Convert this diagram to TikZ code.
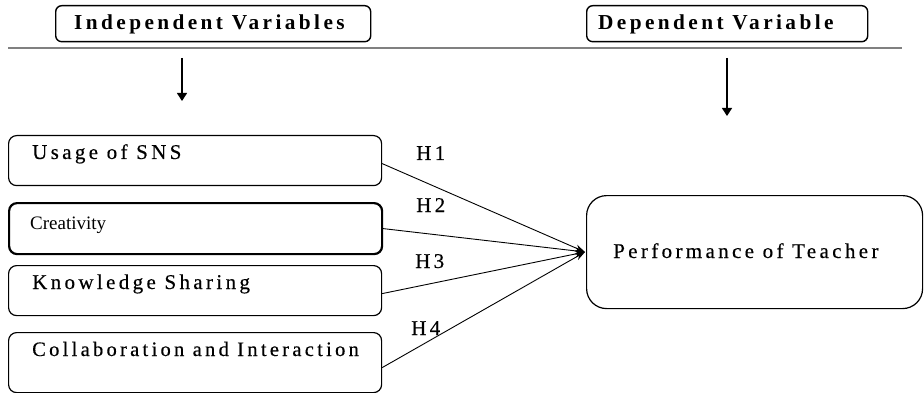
\documentclass[tikz,border=0pt]{standalone}
\usepackage{fontspec}
\setmainfont{Liberation Serif}
\newfontfamily\spaced[LetterSpace=16,FakeBold=0.4]{Liberation Serif}
\newfontfamily\spacedb[LetterSpace=16]{Liberation Serif}
\usetikzlibrary{arrows.meta}
\tikzset{
  box/.style={draw, line width=1.2pt, rounded corners=8pt, anchor=north west, inner sep=0pt},
  hbox/.style={draw, line width=1.4pt, rounded corners=6pt, anchor=north west, inner sep=0pt},
  lbl/.style={anchor=base west, inner sep=0pt, font=\spaced\fontsize{21}{23}\selectfont},
  hlbl/.style={anchor=base west, inner sep=0pt, font=\spacedb\bfseries\fontsize{21.3}{23}\selectfont},
  plain/.style={anchor=base west, inner sep=0pt, font=\fontsize{19}{21}\selectfont},
  link/.style={line width=0.9pt, -{Stealth[length=10pt,width=7pt]}},
  down/.style={line width=1.2pt, -{Triangle[length=8pt,width=10pt]}}
}
\begin{document}
\begin{tikzpicture}[x=1pt,y=-1pt]
\useasboundingbox (0,0) rectangle (924,393);
% header boxes
\node[hbox, minimum width=315pt, minimum height=36pt] (ib) at (55,5) {};
\node[hlbl] (it) at (74,29.5) {Independent Variables};
\node[hbox, minimum width=281pt, minimum height=36pt] (db) at (586,5) {};
\node[hlbl] (dt) at (598,29.5) {Dependent Variable};
% separator
\coordinate (sl) at (8,48);
\coordinate (sr) at (902,48);
\draw[line width=2pt, gray] (sl) -- (sr);
% down arrows
\coordinate (a1s) at (182,58);
\coordinate (a1e) at (182,101);
\coordinate (a2s) at (727,58);
\coordinate (a2e) at (727,116);
\draw[down] (a1s) -- (a1e);
\draw[down] (a2s) -- (a2e);
% left boxes
\node[box, minimum width=373pt, minimum height=50pt] (u) at (8,135) {};
\node[lbl] (ut) at (32,159) {Usage of SNS};
\node[box, line width=2.2pt, minimum width=373pt, minimum height=51pt] (c) at (8,202) {};
\node[plain] (ct) at (30,229) {Creativity};
\node[box, minimum width=373pt, minimum height=50pt] (k) at (8,265) {};
\node[lbl] (kt) at (32,289) {Knowledge Sharing};
\node[box, minimum width=373pt, minimum height=60pt] (l) at (8,332) {};
\node[lbl, font=\spaced\fontsize{20.5}{23}\selectfont] (lt) at (32,356) {Collaboration and Interaction};
% right box
\node[box, rounded corners=20pt, minimum width=336pt, minimum height=113pt] (p) at (586,195) {};
\node[lbl] (pt) at (613,258) {Performance of Teacher};
% connectors
\coordinate (m) at (585,252);
\draw[link] ([yshift=-3pt]u.east) -- (m);
\draw[link] (c.east) -- (m);
\draw[link] ([yshift=-3pt]k.east) -- (m);
\draw[link] ([yshift=-5pt]l.east) -- (m);
% hypothesis labels
\node[lbl] (h1) at (416,160) {H1};
\node[lbl] (h2) at (416,212) {H2};
\node[lbl] (h3) at (415,268) {H3};
\node[lbl] (h4) at (411,335) {H4};
\end{tikzpicture}
\end{document}
